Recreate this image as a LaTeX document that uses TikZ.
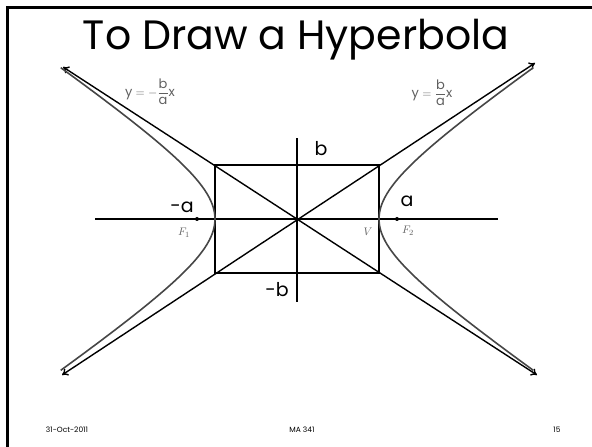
\documentclass[tikz,border=0pt]{standalone}
\usepackage{amsmath}
\usepackage{fontspec}
\setmainfont{Poppins}
\usepackage{tikz}
\usetikzlibrary{arrows.meta,positioning}
\definecolor{curvegray}{RGB}{70,70,70}
\definecolor{labelgray}{RGB}{95,95,95}

\begin{document}
\begin{tikzpicture}[x=1pt, y=1pt,
  axis/.style={line width=1.6pt, black},
  asym/.style={line width=1.4pt, black, {To[length=6pt,width=8pt]}-{To[length=6pt,width=8pt]}},
  branch/.style={line width=1.6pt, curvegray, smooth},
  lbl/.style={font=\fontsize{19}{21}\selectfont, inner sep=0pt},
  eqn/.style={font=\fontsize{13}{15}\selectfont, labelgray, inner sep=0pt},
  pt/.style={font=\fontsize{11}{13}\selectfont, labelgray, inner sep=0pt},
  foot/.style={font=\fontsize{7.5}{9}\selectfont, inner sep=0pt}
]
\useasboundingbox (0,0) rectangle (592,447);
% slide frame
\draw[line width=2.4pt] (7.5,0) -- (7.5,439.5) -- (592,439.5);
\node[font=\fontsize{41}{46}\selectfont] (title) at (296,407) {To Draw a Hyperbola};

% centre, box and axes
\coordinate (o) at (297,228);
\coordinate (ne) at (379,282);
\coordinate (nw) at (215,282);
\coordinate (sw) at (215,174);
\coordinate (se) at (379,174);
\coordinate (xl) at (95,228);
\coordinate (xr) at (498,228);
\coordinate (yt) at (297,309);
\coordinate (yb) at (297,145);
\draw[axis] (nw) rectangle (se);
\draw[axis] (xl) -- (xr);
\draw[axis] (yb) -- (yt);

% asymptotes
\coordinate (ul) at (63,380);
\coordinate (ur) at (535,384);
\coordinate (ll) at (62,72);
\coordinate (lr) at (537,72);
\draw[asym] (ll) -- (ur);
\draw[asym] (ul) -- (lr);

% branches
\draw[branch] plot[domain=-1.72:1.72, samples=60] ({297+82*cosh(\x)}, {228+56*sinh(\x)});
\draw[branch] plot[domain=-1.72:1.72, samples=60] ({297-82*cosh(\x)}, {228+56*sinh(\x)});

% foci
\fill (197,228) circle (2pt) coordinate (f1);
\fill (397,228) circle (2pt) coordinate (f2);
\node[pt] (f1lbl) at (184,214) {$F_1$};
\node[pt] (vlbl) at (368,215) {$V$};
\node[pt] (f2lbl) at (408,216) {$F_2$};

% labels
\node[lbl] (bp) at (321,298) {b};
\node[lbl] (bm) at (277,157) {-b};
\node[lbl] (am) at (182,240) {-a};
\node[lbl] (ap) at (407,246) {a};
\node[eqn] (eql) at (150,355) {$\text{y} = -\dfrac{\text{b}}{\text{a}}\text{x}$};
\node[eqn] (eqr) at (432,354) {$\text{y} = \dfrac{\text{b}}{\text{a}}\text{x}$};

% footer
\node[foot] (date) at (67,17) {31-Oct-2011};
\node[foot] (course) at (302,17) {MA 341};
\node[foot] (page) at (557,17) {15};
\end{tikzpicture}
\end{document}
